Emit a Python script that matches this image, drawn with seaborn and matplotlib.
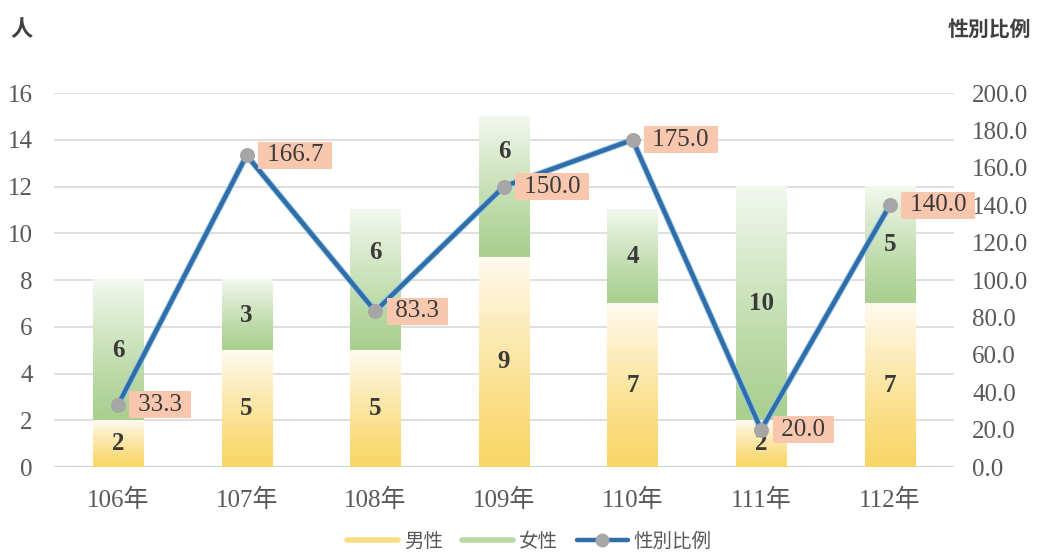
import numpy as np
import pandas as pd
import matplotlib
matplotlib.use("Agg")
import matplotlib.pyplot as plt
import matplotlib.patheffects as pe
from matplotlib.colors import to_rgba
from matplotlib.lines import Line2D
import seaborn as sns

# ---- data ----
years = ["106年", "107年", "108年", "109年", "110年", "111年", "112年"]
male = [2, 5, 5, 9, 7, 2, 7]
female = [6, 3, 6, 6, 4, 10, 5]
ratio = [33.3, 166.7, 83.3, 150.0, 175.0, 20.0, 140.0]
# upward shift (points) of female labels that would sit under the ratio labels
female_label_shift = [0, 0, 20, 25, 0, 0, 0]

sns.set_theme(style="white")
plt.rcParams["font.family"] = ["Liberation Serif", "Noto Sans CJK TC", "DejaVu Sans"]

df = pd.DataFrame({"year": years, "male": male, "female": female, "ratio": ratio})
df["total"] = df["male"] + df["female"]

fig = plt.figure(figsize=(10.38, 5.56), dpi=100)
ax = fig.add_axes([0.0517, 0.160, 0.8675, 0.6727])

MALE_LO, MALE_HI = "#f9d666", "#fffaf0"
FEM_LO, FEM_HI = "#a9d08f", "#f3f8ef"
LINE_C = "#2f6ea8"
MARK_C = "#a6a6a6"
TEXT_C = "#595959"
LABEL_C = "#3a3a3a"


def gradient(lo, hi, n=256):
    a = np.array(to_rgba(lo))
    b = np.array(to_rgba(hi))
    t = np.linspace(0, 1, n)[:, None] ** 1.2
    return (a + (b - a) * t)[:, None, :]


bar_w = 0.39
# bar geometry from seaborn, filled with vertical gradients afterwards
sns.barplot(data=df, x="year", y="total", width=bar_w, facecolor="none",
            edgecolor="none", ax=ax)
sns.barplot(data=df, x="year", y="male", width=bar_w, facecolor="none",
            edgecolor="none", ax=ax)
n = len(years)
male_patches = ax.patches[n:2 * n]
for mp, m, f, dy in zip(male_patches, male, female, female_label_shift):
    x0 = mp.get_x()
    x1 = x0 + mp.get_width()
    ax.imshow(gradient(MALE_LO, MALE_HI), extent=(x0, x1, 0, m),
              origin="lower", aspect="auto", zorder=2, interpolation="bilinear")
    ax.imshow(gradient(FEM_LO, FEM_HI), extent=(x0, x1, m, m + f),
              origin="lower", aspect="auto", zorder=2, interpolation="bilinear")
    xc = (x0 + x1) / 2
    ax.text(xc, m / 2, f"{m}", ha="center", va="center", fontsize=18,
            fontweight="bold", color=LABEL_C, zorder=3)
    ax.annotate(f"{f}", xy=(xc, m + f / 2), xytext=(0, dy),
                textcoords="offset points", ha="center", va="center",
                fontsize=18, fontweight="bold", color=LABEL_C, zorder=3)

ax.set_xlim(-0.5, n - 0.5)
ax.set_ylim(0, 16)
ax.set_yticks(np.arange(0, 17, 2))
ax.yaxis.grid(True, color="#d9d9d9", lw=1.2)
ax.set_axisbelow(True)
for s in ax.spines.values():
    s.set_visible(False)
ax.axhline(0, color="#d0d0d0", lw=1.5, zorder=1)
ax.set_xlabel("")
ax.set_ylabel("")
ax.tick_params(axis="y", length=0, pad=15, labelsize=18, labelcolor=TEXT_C)
ax.tick_params(axis="x", length=0, pad=16, labelsize=18, labelcolor=TEXT_C)

# sex ratio on the secondary axis: glowing line, then plain grey markers
ax2 = ax.twinx()
pos = np.arange(n)
sns.lineplot(x=pos, y=ratio, ax=ax2, color=LINE_C, lw=3.2, zorder=5,
             path_effects=[pe.Stroke(linewidth=4.6, foreground="#9cc8ea"), pe.Normal()])
sns.lineplot(x=pos, y=ratio, ax=ax2, color=MARK_C, linestyle="", marker="o",
             markersize=10, markerfacecolor=MARK_C, markeredgecolor=MARK_C,
             zorder=6)
ax2.set_ylim(0, 200)
ax2.set_yticks(np.arange(0, 201, 20))
ax2.set_yticklabels([f"{v:.1f}" for v in np.arange(0, 201, 20)])
ax2.set_xlim(-0.5, n - 0.5)
ax2.tick_params(axis="y", length=0, pad=13, labelsize=18, labelcolor=TEXT_C)
ax2.set_ylabel("")
for s in ax2.spines.values():
    s.set_visible(False)

for x, r in zip(pos, ratio):
    ax2.annotate(f" {r:.1f} ", xy=(x, r), xytext=(10, 0), textcoords="offset points",
                 ha="left", va="center", fontsize=18, color=LABEL_C, zorder=7,
                 bbox=dict(boxstyle="square,pad=0.1", fc="#f9c6ae", ec="none"))

fig.text(0.021, 0.945, "人", fontsize=16, fontweight="bold", color="#404040",
         ha="center", va="center")
fig.text(0.993, 0.945, "性別比例", fontsize=15, fontweight="bold", color="#404040",
         ha="right", va="center")

handles = [
    Line2D([], [], color="#fbdc85", lw=4),
    Line2D([], [], color="#b9d9a4", lw=4),
    Line2D([], [], color=LINE_C, lw=3.2, marker="o", markersize=9,
           markerfacecolor=MARK_C, markeredgecolor=MARK_C),
]
fig.legend(handles, ["男性", "女性", "性別比例"], loc="center",
           bbox_to_anchor=(0.51, 0.025), ncol=3, frameon=False, fontsize=14,
           handlelength=2.6, columnspacing=1.0, handletextpad=0.3,
           labelcolor=TEXT_C)

fig.savefig("out.png", dpi=100)
